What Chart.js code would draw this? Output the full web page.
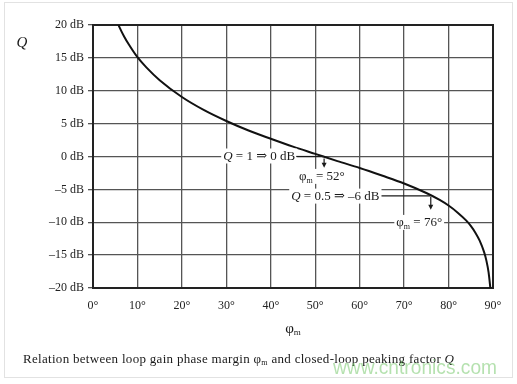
<!DOCTYPE html>
<html>
<head>
<meta charset="utf-8">
<script src="https://cdn.jsdelivr.net/npm/chart.js@4.4.0/dist/chart.umd.min.js"></script>
<style>
    html, body { margin: 0; padding: 0; background: #fff; }
    #wrap { width: 517px; height: 384px; position: relative; }
</style>
</head>
<body>
<div id="wrap"><canvas id="chart" width="517" height="384"></canvas></div>
<script>
// Q (dB) (degrees)
const phaseMargin = [5, 6, 7, 8, 10, 12, 15, 20, 25, 30, 35, 40, 45, 50, 55, 60, 65, 70, 75, 78, 80, 82, 84, 85, 86, 87, 88, 88.5, 89, 89.5];
const peakingDb = [21.2, 19.6, 18.25, 17.1, 15.1, 13.55, 11.6, 9.05, 7.05, 5.4, 3.95, 2.7, 1.5, 0.4, -0.7, -1.75, -2.9, -4.1, -5.55, -6.6, -7.45, -8.5, -9.75, -10.55, -11.55, -12.8, -14.55, -15.8, -17.6, -20.6];
const xTicks = [0, 10, 20, 30, 40, 50, 60, 70, 80, 90];
const yTicks = [20, 15, 10, 5, 0, -5, -10, -15, -20];

const SERIF = '"Liberation Serif", "DejaVu Serif", serif';

(function() {
    const ctx = document.getElementById('chart').getContext('2d');

    // draw a list of text runs (italic / subscript pieces) as one line
    function drawRuns(c, runs, x, y, align, bg) {
        let total = 0;
        runs.forEach(r => {
            c.font = (r.italic ? 'italic ' : '') + (r.size || 13) + 'px ' + SERIF;
            r.w = c.measureText(r.text).width;
            total += r.w;
        });
        let start = x;
        if (align === 'center') start = x - total / 2;
        if (align === 'right') start = x - total;
        if (bg) {
            c.fillStyle = '#fff';
            c.fillRect(start - 2, y - 8, total + 4, 15);
        }
        c.fillStyle = '#1a1a1a';
        c.textBaseline = 'middle';
        c.textAlign = 'left';
        let cx = start;
        runs.forEach(r => {
            c.font = (r.italic ? 'italic ' : '') + (r.size || 13) + 'px ' + SERIF;
            c.fillText(r.text, cx, y + (r.dy || 0));
            cx += r.w;
        });
        return { left: start, right: start + total };
    }

    function arrowDown(c, x, y1, y2) {
        c.strokeStyle = '#1a1a1a';
        c.fillStyle = '#1a1a1a';
        c.lineWidth = 1.2;
        c.beginPath();
        c.moveTo(x, y1);
        c.lineTo(x, y2 - 4);
        c.stroke();
        c.beginPath();
        c.moveTo(x - 2.5, y2 - 5);
        c.lineTo(x + 2.5, y2 - 5);
        c.lineTo(x, y2);
        c.closePath();
        c.fill();
    }

    const framePlugin = {
        id: 'frame',
        beforeDatasetsDraw(chart) {
            const a = chart.chartArea;
            const c = chart.ctx;
            c.save();
            c.strokeStyle = '#222';
            c.lineWidth = 2;
            c.strokeRect(a.left, a.top, a.right - a.left, a.bottom - a.top);
            c.restore();
        },
        afterDraw(chart) {
            const c = chart.ctx;
            const xs = chart.scales.x;
            const ys = chart.scales.y;
            c.save();

            // outer light frame of the figure
            c.strokeStyle = '#e2e2e2';
            c.lineWidth = 1;
            c.strokeRect(4.5, 2.5, 508, 375);

            // Q label
            drawRuns(c, [{ text: 'Q', italic: true, size: 15 }], 22, 43, 'center', false);

            // axis title phi_m
            drawRuns(c, [{ text: '\u03c6', size: 15 }, { text: 'm', size: 9, dy: 4 }], 293, 329, 'center', false);

            // annotation Q = 1 => 0 dB, phi_m = 52
            const y0 = ys.getPixelForValue(0);
            const x52 = xs.getPixelForValue(52);
            const t1 = drawRuns(c, [{ text: 'Q', italic: true }, { text: ' = 1 \u21d2 0 dB' }], xs.getPixelForValue(45.5), y0, 'right', true);
            c.strokeStyle = '#1a1a1a';
            c.lineWidth = 1.2;
            c.beginPath();
            c.moveTo(t1.right + 1, y0);
            c.lineTo(x52, y0);
            c.stroke();
            arrowDown(c, x52, y0 + 2, ys.getPixelForValue(-1.7));
            drawRuns(c, [{ text: '\u03c6' }, { text: 'm', size: 8, dy: 4 }, { text: ' = 52\u00b0' }], xs.getPixelForValue(51.5), ys.getPixelForValue(-3.1), 'center', true);

            // annotation Q = 0.5 => -6 dB, phi_m = 76
            const y6 = ys.getPixelForValue(-6);
            const x76 = xs.getPixelForValue(76);
            const t2 = drawRuns(c, [{ text: 'Q', italic: true }, { text: ' = 0.5 \u21d2 \u20136 dB' }], xs.getPixelForValue(44.6), ys.getPixelForValue(-6.1), 'left', true);
            c.strokeStyle = '#1a1a1a';
            c.lineWidth = 1.2;
            c.beginPath();
            c.moveTo(t2.right + 2, y6);
            c.lineTo(x76, y6);
            c.stroke();
            arrowDown(c, x76, y6 + 1, ys.getPixelForValue(-8.1));
            drawRuns(c, [{ text: '\u03c6' }, { text: 'm', size: 8, dy: 4 }, { text: ' = 76\u00b0' }], xs.getPixelForValue(73.4), ys.getPixelForValue(-10.1), 'center', true);

            // caption
            c.letterSpacing = '0.3px';
            drawRuns(c, [
                { text: 'Relation between loop gain phase margin ', size: 13 },
                { text: '\u03c6', size: 13 },
                { text: 'm', size: 8, dy: 3 },
                { text: ' and closed-loop peaking factor ', size: 13 },
                { text: 'Q', italic: true, size: 13 }
            ], 23, 360, 'left', false);
            c.letterSpacing = '0px';

            // watermark
            c.font = '21px "Liberation Sans", sans-serif';
            c.fillStyle = 'rgba(120, 200, 110, 0.55)';
            c.textAlign = 'left';
            c.textBaseline = 'middle';
            c.fillText('www.cntronics.com', 333, 368, 164);
            c.restore();
        }
    };

    const points = phaseMargin.map((p, i) => ({ x: p, y: peakingDb[i] }));

    new Chart(ctx, {
        type: 'line',
        data: {
            datasets: [{
                data: points,
                borderColor: '#111',
                borderWidth: 2,
                pointRadius: 0,
                fill: false,
                cubicInterpolationMode: 'monotone'
            }]
        },
        options: {
            responsive: false,
            animation: false,
            devicePixelRatio: 1,
            layout: { padding: { left: 0, right: 24, top: 25, bottom: 0 } },
            plugins: {
                legend: { display: false },
                tooltip: { enabled: false }
            },
            scales: {
                x: {
                    type: 'linear',
                    min: 0,
                    max: 90,
                    afterBuildTicks: scale => { scale.ticks = xTicks.map(v => ({ value: v })); },
                    afterFit: scale => { scale.height = 96; },
                    grid: { color: '#555', lineWidth: 1.3, drawTicks: false },
                    border: { display: false },
                    ticks: {
                        padding: 11,
                        color: '#222',
                        font: { family: SERIF, size: 12 },
                        callback: v => v + '\u00b0'
                    }
                },
                y: {
                    type: 'linear',
                    min: -20,
                    max: 20,
                    afterBuildTicks: scale => { scale.ticks = yTicks.map(v => ({ value: v })); },
                    afterFit: scale => { scale.width = 93; },
                    grid: { color: '#555', lineWidth: 1.3, tickLength: 5 },
                    border: { display: false },
                    ticks: {
                        padding: 4,
                        color: '#222',
                        font: { family: SERIF, size: 12 },
                        callback: v => String(v).replace('-', '\u2013') + ' dB'
                    }
                }
            }
        },
        plugins: [framePlugin]
    });
})();
</script>
</body>
</html>
